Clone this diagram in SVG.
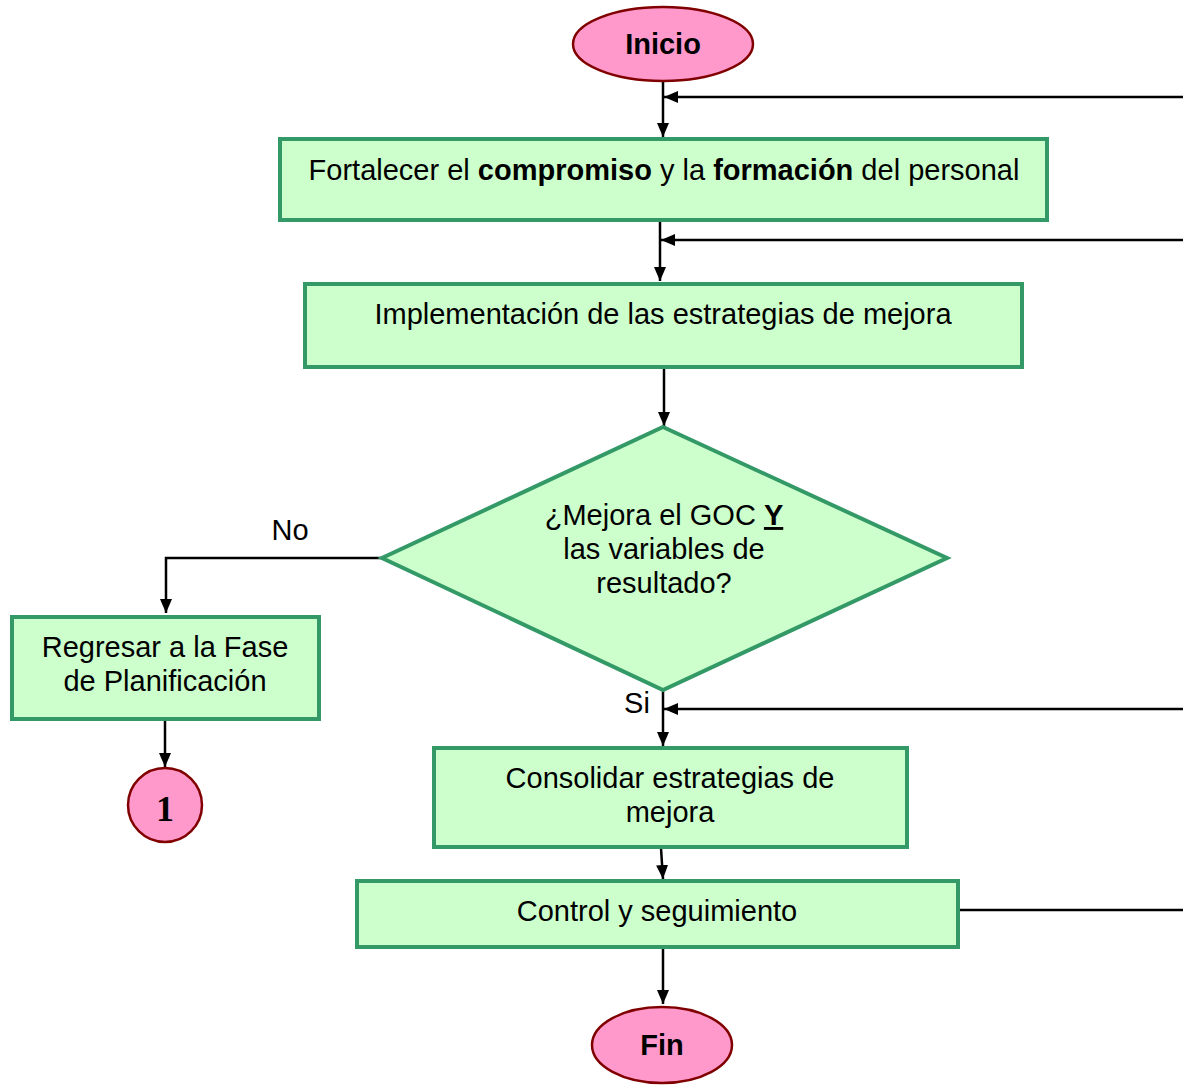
<svg xmlns="http://www.w3.org/2000/svg" width="1183" height="1087" viewBox="0 0 1183 1087">
<style>
.box{fill:#CCFFCC;stroke:#339966;stroke-width:4}
.term{fill:#FF99CC;stroke:#800000;stroke-width:2.5}
.t{font-family:"Liberation Sans",Arial,sans-serif;font-size:29px;fill:#000;text-anchor:middle}
.b{font-weight:bold}
.ln{stroke:#000;stroke-width:2.5;fill:none}
.arr{marker-end:url(#ah)}
</style>
<defs>
<marker id="ah" viewBox="0 0 14 12" refX="14" refY="6" markerWidth="14" markerHeight="12" markerUnits="userSpaceOnUse" orient="auto">
<path d="M0,0 L14,6 L0,12 Z" fill="#000"/>
</marker>
</defs>
<rect width="1183" height="1087" fill="#fff"/>
<g id="connectors">
<line class="ln arr" x1="663" y1="81" x2="663" y2="137"/>
<line class="ln arr" x1="1183" y1="97" x2="664" y2="97"/>
<line class="ln arr" x1="660" y1="222" x2="660" y2="281"/>
<line class="ln arr" x1="1183" y1="240" x2="661" y2="240"/>
<line class="ln arr" x1="664" y1="369" x2="664" y2="426"/>
<polyline class="ln arr" points="382,558 166,558 166,613"/>
<line class="ln arr" x1="165" y1="721" x2="165" y2="767"/>
<line class="ln arr" x1="663" y1="690" x2="663" y2="746"/>
<line class="ln arr" x1="1183" y1="709" x2="664" y2="709"/>
<line class="ln arr" x1="661" y1="848" x2="663" y2="879"/>
<line class="ln" x1="958" y1="910" x2="1183" y2="910"/>
<line class="ln arr" x1="663" y1="947" x2="663" y2="1004"/>
<text class="t" x="290" y="540">No</text>
<text class="t" x="637" y="713">Si</text>
</g>
<g id="inicio">
<ellipse class="term" cx="663" cy="44" rx="90" ry="37"/>
<text class="t b" x="663" y="54">Inicio</text>
</g>
<g id="fortalecer">
<rect class="box" x="280" y="139" width="767" height="81"/>
<text class="t" x="664" y="180">Fortalecer el <tspan class="b">compromiso</tspan> y la <tspan class="b">formación</tspan> del personal</text>
</g>
<g id="implementacion">
<rect class="box" x="305" y="284" width="717" height="83"/>
<text class="t" x="663" y="324">Implementación de las estrategias de mejora</text>
</g>
<g id="decision">
<polygon class="box" points="663,427 947,558 663,690 382,558"/>
<text class="t" x="664" y="525">¿Mejora el GOC <tspan class="b" text-decoration="underline">Y</tspan></text>
<text class="t" x="664" y="559">las variables de</text>
<text class="t" x="664" y="593">resultado?</text>
</g>
<g id="regresar">
<rect class="box" x="12" y="617" width="307" height="102"/>
<text class="t" x="165" y="657">Regresar a la Fase</text>
<text class="t" x="165" y="691">de Planificación</text>
</g>
<g id="conector1">
<circle class="term" cx="165" cy="805" r="37"/>
<text x="165" y="821" font-family="'Liberation Serif','Times New Roman',serif" font-size="36" font-weight="bold" text-anchor="middle">1</text>
</g>
<g id="consolidar">
<rect class="box" x="434" y="748" width="473" height="99"/>
<text class="t" x="670" y="788">Consolidar estrategias de</text>
<text class="t" x="670" y="822">mejora</text>
</g>
<g id="control">
<rect class="box" x="357" y="881" width="601" height="66"/>
<text class="t" x="657" y="921">Control y seguimiento</text>
</g>
<g id="fin">
<ellipse class="term" cx="662" cy="1045" rx="70" ry="38"/>
<text class="t b" x="662" y="1055">Fin</text>
</g>
</svg>
